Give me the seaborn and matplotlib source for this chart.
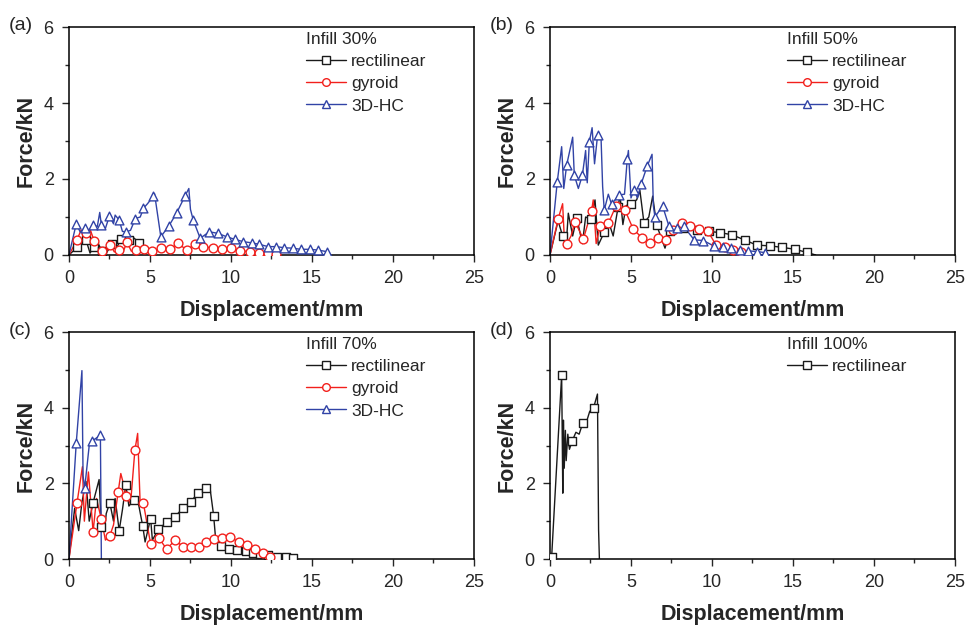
import pandas as pd
import matplotlib
matplotlib.use("Agg")
import matplotlib.pyplot as plt
from matplotlib.lines import Line2D
from matplotlib.ticker import MultipleLocator
import seaborn as sns

sns.set_style("ticks")
plt.rcParams["font.family"] = ["Liberation Sans", "DejaVu Sans"]

BLACK = "#1a1a1a"
RED = "#f2201c"
BLUE = "#3143a6"

# ---- Infill 30% ----
# marker points (mx, my) and extra line-only peaks (px, py)
rect30_mx = [0.5, 1.05, 1.55, 2.05, 2.65, 3.2, 3.7, 4.35]
rect30_my = [0.2, 0.4, 0.22, 0.1, 0.28, 0.41, 0.39, 0.32]
rect30_px = [0.0, 0.75, 1.3, 1.8, 2.3, 2.9, 3.45, 4.0, 4.6]
rect30_py = [0.0, 0.42, 0.05, 0.3, 0.05, 0.15, 0.5, 0.45, 0.05]

gyr30_mx = [0.49, 1.03, 1.55, 2.06, 2.56, 3.09, 3.59, 4.12, 4.64, 5.15, 5.71, 6.23,
            6.74, 7.26, 7.77, 8.29, 8.9, 9.42, 10.0, 10.56, 11.18, 11.75, 12.3, 12.78]
gyr30_my = [0.39, 0.57, 0.38, 0.11, 0.26, 0.13, 0.33, 0.13, 0.15, 0.11, 0.18, 0.15,
            0.31, 0.13, 0.28, 0.22, 0.18, 0.15, 0.18, 0.11, 0.09, 0.06, 0.04, 0.03]
gyr30_px = [0.0, 0.75, 1.3, 1.75, 2.3, 2.8, 3.35, 3.85, 12.9]
gyr30_py = [0.0, 0.66, 0.68, 0.1, 0.1, 0.08, 0.1, 0.1, 0.0]

hc30_mx = [0.45, 0.97, 1.48, 2.0, 2.5, 3.1, 3.55, 4.1, 4.6, 5.2, 5.67, 6.16, 6.64,
           7.15, 7.67, 8.1, 8.66, 9.2, 9.73, 10.25, 10.76, 11.28, 11.75, 12.3,
           12.8, 13.3, 13.8, 14.3, 14.85, 15.36, 15.9]
hc30_my = [0.82, 0.72, 0.79, 0.79, 1.03, 0.92, 0.61, 0.96, 1.23, 1.54, 0.48, 0.76, 1.1,
           1.54, 0.92, 0.44, 0.61, 0.57, 0.48, 0.41, 0.35, 0.32, 0.28, 0.22,
           0.22, 0.19, 0.18, 0.15, 0.15, 0.13, 0.09]
hc30_px = [0.0, 0.7, 1.2, 1.75, 1.9, 2.25, 2.75, 2.85, 3.3, 3.8, 4.4, 4.85, 5.28, 7.4, 7.5, 16.0]
hc30_py = [0.0, 0.6, 0.62, 0.75, 1.12, 0.7, 0.82, 1.05, 0.62, 0.65, 1.0, 1.35, 1.62, 1.75, 1.2, 0.05]

# ---- Infill 50% ----
rect50_mx = [0.78, 1.65, 2.53, 3.35, 4.2, 5.0, 5.8, 6.58, 7.4, 8.23, 9.05, 9.8,
             10.5, 11.25, 12.04, 12.76, 13.58, 14.34, 15.12, 15.84]
rect50_my = [0.5, 0.98, 0.94, 0.6, 1.25, 1.35, 0.85, 0.79, 0.62, 0.7, 0.66, 0.62,
             0.59, 0.53, 0.39, 0.26, 0.24, 0.2, 0.15, 0.07]
rect50_px = [0.0, 0.5, 1.0, 1.13, 1.4, 2.0, 2.2, 2.78, 2.98, 3.6, 3.9, 4.32, 4.5,
             4.7, 5.35, 5.55, 6.1, 6.34, 7.1, 7.7, 16.4]
rect50_py = [0.0, 0.9, 0.25, 1.1, 0.5, 0.3, 1.0, 1.45, 0.26, 0.9, 0.5, 1.58, 0.8,
             1.3, 1.45, 1.7, 1.0, 1.55, 0.18, 0.6, 0.0]

gyr50_mx = [0.51, 1.03, 1.54, 2.06, 2.57, 3.09, 3.6, 4.07, 4.63, 5.14, 5.66, 6.17,
            6.65, 7.16, 7.62, 8.13, 8.64, 9.2, 9.73, 10.25, 10.8, 11.3, 11.8]
gyr50_my = [0.96, 0.29, 0.88, 0.42, 1.17, 0.75, 0.83, 1.29, 1.18, 0.68, 0.46, 0.32,
            0.44, 0.39, 0.66, 0.85, 0.76, 0.68, 0.64, 0.26, 0.2, 0.13, 0.09]
gyr50_px = [0.0, 0.78, 0.9, 1.3, 2.67, 2.85, 3.4, 11.95]
gyr50_py = [0.0, 1.35, 0.3, 0.5, 1.45, 0.3, 0.5, 0.0]

hc50_mx = [0.45, 1.03, 1.5, 2.0, 2.43, 2.94, 3.35, 3.8, 4.28, 4.77, 5.18, 5.62, 6.0,
           6.48, 6.95, 7.35, 7.85, 8.25, 8.9, 9.47, 10.1, 10.7, 11.2, 11.7, 12.2,
           12.8, 13.3]
hc50_my = [1.93, 2.37, 2.1, 2.1, 2.98, 3.16, 1.18, 1.34, 1.58, 2.52, 1.71, 1.86, 2.34,
           1.0, 1.29, 0.75, 0.7, 0.75, 0.4, 0.38, 0.24, 0.2, 0.18, 0.13, 0.11,
           0.09, 0.06]
hc50_px = [0.0, 0.72, 0.85, 1.3, 1.4, 1.75, 2.2, 2.3, 2.6, 2.75, 3.15, 3.25, 3.6,
           4.6, 4.84, 5.0, 5.4, 6.3, 6.38, 13.5]
hc50_py = [0.0, 2.85, 1.75, 2.9, 3.1, 1.75, 2.75, 1.9, 3.35, 2.4, 3.1, 1.8, 1.6,
           1.6, 2.75, 1.5, 1.5, 2.65, 1.3, 0.0]

# ---- Infill 70% ----
rect70_mx = [1.49, 2.0, 2.52, 3.1, 3.51, 4.0, 4.55, 5.04, 5.52, 6.03, 6.55, 7.02,
             7.52, 7.99, 8.47, 8.93, 9.4, 9.86, 10.37, 10.9, 11.35, 11.8, 12.3,
             12.85, 13.37, 13.8]
rect70_my = [1.49, 0.85, 1.49, 0.75, 1.96, 1.56, 0.88, 1.07, 0.79, 0.97, 1.12, 1.34,
             1.52, 1.75, 1.87, 1.15, 0.34, 0.26, 0.24, 0.2, 0.16, 0.13, 0.1,
             0.06, 0.04, 0.03]
rect70_px = [0.0, 0.35, 0.6, 0.8, 1.05, 1.25, 1.86, 2.2, 2.3, 2.75, 2.85, 3.3, 3.7,
             4.25, 4.7, 5.15, 8.7, 9.05, 14.0]
rect70_py = [0.0, 1.34, 0.75, 1.5, 2.05, 1.0, 2.1, 0.75, 1.2, 1.0, 1.6, 1.3, 1.4,
             1.55, 0.45, 0.5, 1.9, 0.55, 0.0]

gyr70_mx = [0.5, 1.49, 2.0, 2.52, 3.04, 3.55, 4.07, 4.59, 5.04, 5.56, 6.03, 6.55,
            7.02, 7.52, 8.0, 8.47, 8.97, 9.44, 9.96, 10.48, 11.0, 11.5, 12.0, 12.44]
gyr70_my = [1.49, 0.72, 1.05, 0.61, 1.78, 1.67, 2.88, 1.49, 0.4, 0.55, 0.26, 0.5,
            0.33, 0.33, 0.33, 0.46, 0.53, 0.55, 0.59, 0.44, 0.37, 0.26, 0.15, 0.04]
gyr70_px = [0.0, 0.83, 0.95, 1.2, 1.7, 2.25, 2.75, 3.2, 3.8, 4.24, 4.4, 12.6]
gyr70_py = [0.0, 2.44, 1.0, 2.3, 1.6, 0.5, 0.9, 2.26, 1.45, 3.32, 1.4, 0.0]

hc70_mx = [0.45, 0.97, 1.45, 1.94]
hc70_my = [3.07, 1.87, 3.13, 3.28]
hc70_px = [0.0, 0.8, 0.87, 1.15, 1.25, 1.7, 2.0]
hc70_py = [0.0, 4.98, 2.2, 2.6, 3.0, 3.2, 0.0]

# ---- Infill 100% ----
rect100_mx = [0.1, 0.72, 1.38, 2.02, 2.69]
rect100_my = [0.04, 4.86, 3.13, 3.59, 4.0]
rect100_px = [0.0, 0.79, 0.83, 0.88, 0.95, 1.0, 1.1, 1.2, 1.6, 1.8, 2.2, 2.45, 2.93, 3.0, 3.05]
rect100_py = [0.0, 1.74, 3.67, 2.4, 3.4, 2.6, 3.3, 2.9, 3.35, 3.3, 3.55, 3.9, 4.36, 0.77, 0.0]

SERIES = {
    "rectilinear": (BLACK, "s"),
    "gyroid": (RED, "o"),
    "3D-HC": (BLUE, "^"),
}

panels = [
    ("(a)", "Infill 30%", [0.0711, 0.5959, 0.4175, 0.3613],
     [("rectilinear", rect30_mx, rect30_my, rect30_px, rect30_py),
      ("gyroid", gyr30_mx, gyr30_my, gyr30_px, gyr30_py),
      ("3D-HC", hc30_mx, hc30_my, hc30_px, hc30_py)]),
    ("(b)", "Infill 50%", [0.567, 0.5959, 0.4175, 0.3613],
     [("rectilinear", rect50_mx, rect50_my, rect50_px, rect50_py),
      ("gyroid", gyr50_mx, gyr50_my, gyr50_px, gyr50_py),
      ("3D-HC", hc50_mx, hc50_my, hc50_px, hc50_py)]),
    ("(c)", "Infill 70%", [0.0711, 0.1141, 0.4175, 0.3597],
     [("rectilinear", rect70_mx, rect70_my, rect70_px, rect70_py),
      ("gyroid", gyr70_mx, gyr70_my, gyr70_px, gyr70_py),
      ("3D-HC", hc70_mx, hc70_my, hc70_px, hc70_py)]),
    ("(d)", "Infill 100%", [0.567, 0.1141, 0.4175, 0.3597],
     [("rectilinear", rect100_mx, rect100_my, rect100_px, rect100_py)]),
]


def draw_series(ax, name, mx, my, px, py):
    color, marker = SERIES[name]
    df = pd.DataFrame({"x": list(mx) + list(px), "y": list(my) + list(py)})
    df = df.sort_values("x", kind="stable")
    sns.lineplot(data=df, x="x", y="y", sort=False, estimator=None,
                 color=color, lw=1, ax=ax)
    sns.scatterplot(x=mx, y=my, marker=marker, s=40, color=color,
                    facecolor="white", edgecolor=color, linewidth=1,
                    ax=ax, zorder=3)


fig = plt.figure(figsize=(9.7, 6.31), dpi=100)

for tag, title, rect, series in panels:
    ax = fig.add_axes(rect)
    handles = []
    for name, mx, my, px, py in series:
        draw_series(ax, name, mx, my, px, py)
        color, marker = SERIES[name]
        handles.append(Line2D([], [], color=color, lw=1, marker=marker, ms=5.5,
                              mfc="white", mec=color))
    ax.set_xlim(0, 25)
    ax.set_ylim(0, 6)
    ax.xaxis.set_major_locator(MultipleLocator(5))
    ax.xaxis.set_minor_locator(MultipleLocator(2.5))
    ax.yaxis.set_major_locator(MultipleLocator(2))
    ax.yaxis.set_minor_locator(MultipleLocator(1))
    ax.tick_params(which="major", direction="out", length=5, width=1,
                   labelsize=13, pad=6)
    ax.tick_params(which="minor", direction="out", length=3, width=1)
    for sp in ax.spines.values():
        sp.set_linewidth(1.1)
        sp.set_color("black")
    ax.set_xlabel("Displacement/mm", fontsize=15.5, fontweight="bold", labelpad=9)
    ax.set_ylabel("Force/kN", fontsize=15.5, fontweight="bold", labelpad=5)
    ax.legend(handles, [s[0] for s in series], title=title, loc="upper left",
              bbox_to_anchor=(0.585, 0.977), frameon=False, fontsize=12.5,
              title_fontsize=12.5, alignment="left", handlelength=2.3,
              handletextpad=0.3, labelspacing=0.4, borderpad=0, borderaxespad=0)
    fig.text(rect[0] - 0.062, rect[1] + rect[3] - 0.005, tag, fontsize=14,
             va="baseline", ha="left")

plt.savefig("out.png", dpi=100)
